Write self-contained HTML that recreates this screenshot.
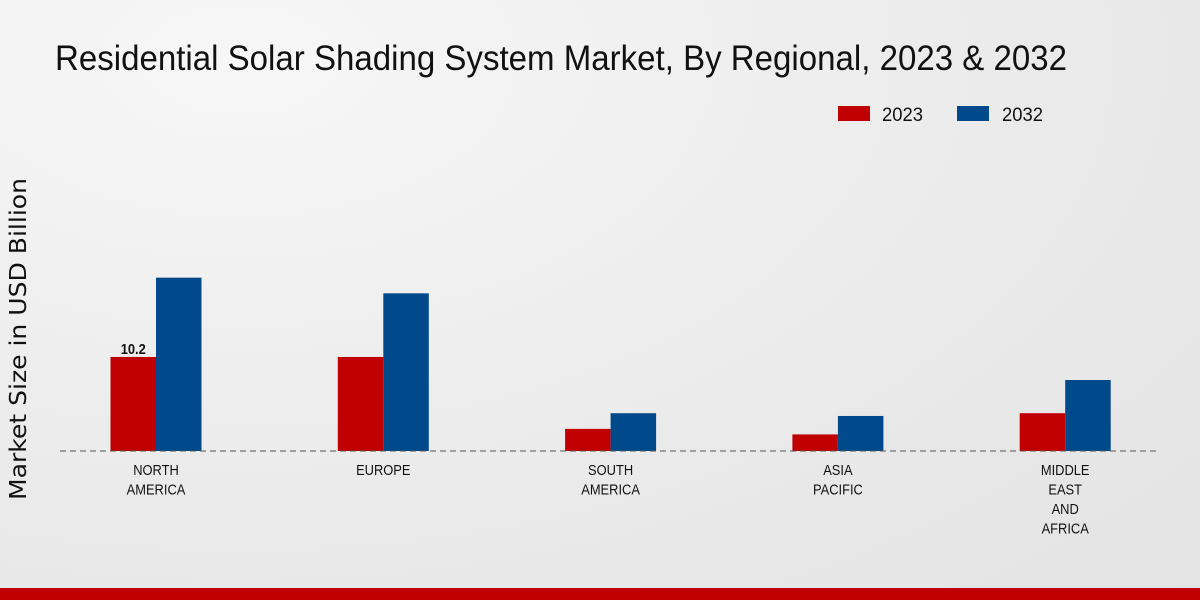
<!DOCTYPE html>
<html><head><meta charset="utf-8">
<style>
body{margin:0;width:1200px;height:600px;overflow:hidden;background:radial-gradient(ellipse at 20% 10%,#f7f7f7 0%,#ebebeb 55%,#e3e3e3 100%);font-family:"Liberation Sans",sans-serif;}
</style></head><body>
<svg width="1200" height="600" style="position:absolute;left:0;top:0">
<text x="55" y="70" font-size="35" fill="#111" textLength="1012" lengthAdjust="spacingAndGlyphs">Residential Solar Shading System Market, By Regional, 2023 &amp; 2032</text>
<text transform="translate(26,339) rotate(-90)" text-anchor="middle" font-size="23" fill="#111" textLength="322" lengthAdjust="spacingAndGlyphs" style="font-family:'DejaVu Sans',sans-serif">Market Size in USD Billion</text>
<g>
<rect x="838" y="106" width="32" height="15" fill="#c00000"/>
<text x="882" y="121" font-size="19" fill="#111" textLength="41" lengthAdjust="spacingAndGlyphs">2023</text>
<rect x="957" y="106" width="32" height="15" fill="#004a8c"/>
<text x="1002" y="121" font-size="19" fill="#111" textLength="41" lengthAdjust="spacingAndGlyphs">2032</text>
</g>
<g id="plot"></g>
<line x1="60" y1="451" x2="1160" y2="451" stroke="#555" stroke-dasharray="6,4"/>
<rect x="0" y="588" width="1200" height="12" fill="#c00000"/>
</svg>
<script>
const categories=[["NORTH","AMERICA"],["EUROPE"],["SOUTH","AMERICA"],["ASIA","PACIFIC"],["MIDDLE","EAST","AND","AFRICA"]];
const values2023=[10.2,10.2,2.4,1.8,4.1];
const values2032=[18.8,17.1,4.1,3.8,7.7];
const labels2023=["10.2",null,null,null,null];
const base=451,scale=9.22,x0=156,step=227.3,bw=45.5;
const ys=v=>base-v*scale;
const xs=i=>x0+i*step;
const g=document.getElementById('plot');
const NS="http://www.w3.org/2000/svg";
const sx=0.86;
categories.forEach((c,i)=>{
  const r=document.createElementNS(NS,'rect');
  r.setAttribute('x',xs(i)-bw);r.setAttribute('y',ys(values2023[i]));r.setAttribute('width',bw);r.setAttribute('height',values2023[i]*scale);r.setAttribute('fill','#c00000');
  
  
  g.appendChild(r);
  const b=document.createElementNS(NS,'rect');
  b.setAttribute('x',xs(i));b.setAttribute('y',ys(values2032[i]));b.setAttribute('width',bw);b.setAttribute('height',values2032[i]*scale);b.setAttribute('fill','#004a8c');
  
  
  g.appendChild(b);
  if(labels2023[i]){
    const t=document.createElementNS(NS,'text');
    t.setAttribute('x',(xs(i)-bw/2)/sx);t.setAttribute('y',ys(values2023[i])-3);t.setAttribute('text-anchor','middle');t.setAttribute('font-size','15');t.setAttribute('font-weight','bold');t.setAttribute('fill','#111');
    t.setAttribute('transform','scale('+sx+',1)');
    t.textContent=labels2023[i];
    
    
    g.appendChild(t);
  }
  c.forEach((line,k)=>{
    const t=document.createElementNS(NS,'text');
    t.setAttribute('x',xs(i)/sx);t.setAttribute('y',475+k*19.5);t.setAttribute('text-anchor','middle');t.setAttribute('font-size','15');t.setAttribute('fill','#111');
    t.setAttribute('transform','scale('+sx+',1)');
    t.textContent=line;
    
    
    g.appendChild(t);
  });
});
</script>
</body></html>
